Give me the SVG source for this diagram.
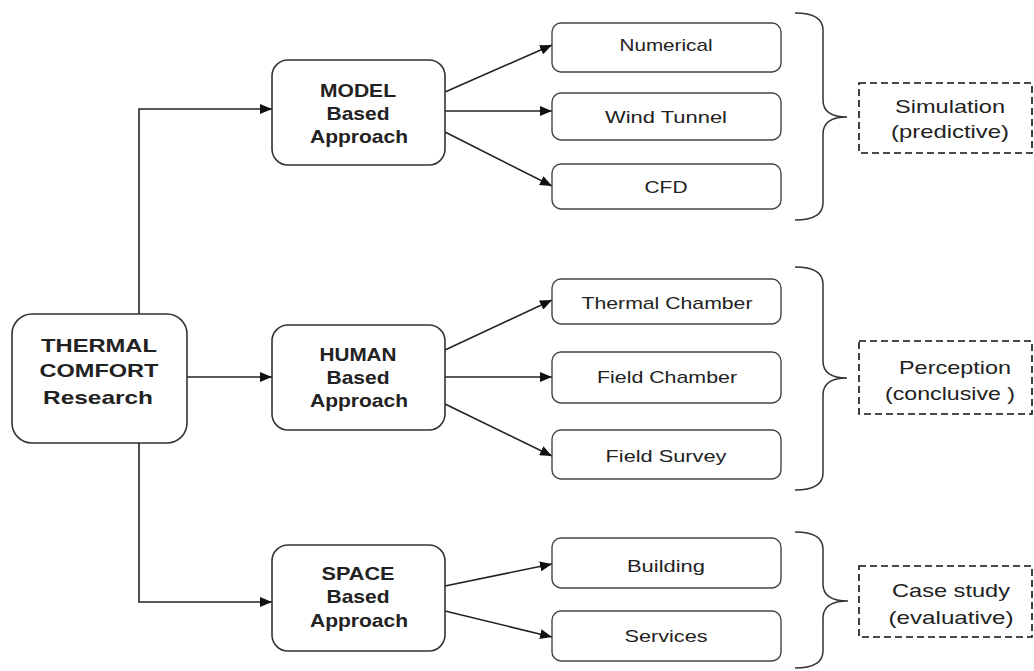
<svg xmlns="http://www.w3.org/2000/svg" width="1034" height="671" viewBox="0 0 1034 671">
<defs>
<marker id="ah" viewBox="0 0 12 10" refX="12" refY="5" markerWidth="12" markerHeight="10" markerUnits="userSpaceOnUse" orient="auto">
<path d="M0,0 L12,5 L0,10 Z" fill="#111"/>
</marker>
<style>
.node{fill:#fff;stroke:#333;stroke-width:1.6}
.leaf{fill:#fff;stroke:#444;stroke-width:1.4}
.dash{fill:#fff;stroke:#111;stroke-width:1.6;stroke-dasharray:7,4}
.brace{fill:none;stroke:#333;stroke-width:1.5}
.conn{fill:none;stroke:#222;stroke-width:1.6}
.b{font-family:"Liberation Sans",Arial,sans-serif;font-weight:bold;font-size:19px;fill:#222;text-anchor:middle}
.t{font-family:"Liberation Sans",Arial,sans-serif;font-size:17px;fill:#222;text-anchor:middle}
.d{font-family:"Liberation Sans",Arial,sans-serif;font-size:19px;fill:#222;text-anchor:middle}
</style>
</defs>
<rect width="1034" height="671" fill="#fff"/>
<g id="connectors">
<path class="conn" d="M139,314 V109 H272" marker-end="url(#ah)"/>
<path class="conn" d="M139,443 V602 H272" marker-end="url(#ah)"/>
<path class="conn" d="M187,377 H272" marker-end="url(#ah)"/>
<path class="conn" d="M445,92 L552,45" marker-end="url(#ah)"/>
<path class="conn" d="M445,111 H552" marker-end="url(#ah)"/>
<path class="conn" d="M445,132 L552,186" marker-end="url(#ah)"/>
<path class="conn" d="M445,350 L552,300" marker-end="url(#ah)"/>
<path class="conn" d="M445,377 H552" marker-end="url(#ah)"/>
<path class="conn" d="M445,404 L552,456" marker-end="url(#ah)"/>
<path class="conn" d="M445,586 L552,564" marker-end="url(#ah)"/>
<path class="conn" d="M445,611 L552,637" marker-end="url(#ah)"/>
</g>
<g id="thermal">
<rect class="node" x="12" y="314" width="175" height="129" rx="20"/>
<text class="b" x="99" y="352" font-size="20" textLength="116" lengthAdjust="spacingAndGlyphs">THERMAL</text>
<text class="b" x="99" y="377" font-size="20" textLength="119" lengthAdjust="spacingAndGlyphs">COMFORT</text>
<text class="b" x="98" y="404" font-size="20" textLength="110" lengthAdjust="spacingAndGlyphs">Research</text>
</g>
<g id="model">
<rect class="node" x="272" y="60" width="173" height="105" rx="16"/>
<text class="b" x="358" y="97" textLength="76" lengthAdjust="spacingAndGlyphs">MODEL</text>
<text class="b" x="358" y="120" textLength="63" lengthAdjust="spacingAndGlyphs">Based</text>
<text class="b" x="359" y="143" textLength="98" lengthAdjust="spacingAndGlyphs">Approach</text>
</g>
<g id="human">
<rect class="node" x="272" y="325" width="173" height="105" rx="16"/>
<text class="b" x="358" y="361" textLength="77" lengthAdjust="spacingAndGlyphs">HUMAN</text>
<text class="b" x="358" y="384" textLength="63" lengthAdjust="spacingAndGlyphs">Based</text>
<text class="b" x="359" y="407" textLength="98" lengthAdjust="spacingAndGlyphs">Approach</text>
</g>
<g id="space">
<rect class="node" x="272" y="545" width="173" height="106" rx="16"/>
<text class="b" x="358" y="580" textLength="73" lengthAdjust="spacingAndGlyphs">SPACE</text>
<text class="b" x="358" y="603" textLength="63" lengthAdjust="spacingAndGlyphs">Based</text>
<text class="b" x="359" y="627" textLength="98" lengthAdjust="spacingAndGlyphs">Approach</text>
</g>
<g id="numerical"><rect class="leaf" x="552" y="23" width="229" height="49" rx="9"/><text class="t" x="666" y="51" textLength="93" lengthAdjust="spacingAndGlyphs">Numerical</text></g>
<g id="windtunnel"><rect class="leaf" x="552" y="93" width="229" height="47" rx="9"/><text class="t" x="666" y="123" textLength="122" lengthAdjust="spacingAndGlyphs">Wind Tunnel</text></g>
<g id="cfd"><rect class="leaf" x="552" y="164" width="229" height="45" rx="9"/><text class="t" x="666" y="193" textLength="43" lengthAdjust="spacingAndGlyphs">CFD</text></g>
<g id="thermalchamber"><rect class="leaf" x="552" y="279" width="229" height="45" rx="9"/><text class="t" x="667" y="309" textLength="171" lengthAdjust="spacingAndGlyphs">Thermal Chamber</text></g>
<g id="fieldchamber"><rect class="leaf" x="552" y="352" width="229" height="51" rx="9"/><text class="t" x="667" y="383" textLength="140" lengthAdjust="spacingAndGlyphs">Field Chamber</text></g>
<g id="fieldsurvey"><rect class="leaf" x="552" y="430" width="229" height="49" rx="9"/><text class="t" x="666" y="462" textLength="121" lengthAdjust="spacingAndGlyphs">Field Survey</text></g>
<g id="building"><rect class="leaf" x="552" y="538" width="229" height="50" rx="9"/><text class="t" x="666" y="572" textLength="78" lengthAdjust="spacingAndGlyphs">Building</text></g>
<g id="services"><rect class="leaf" x="552" y="611" width="229" height="50" rx="9"/><text class="t" x="666" y="642" textLength="83" lengthAdjust="spacingAndGlyphs">Services</text></g>
<g id="brace1"><path class="brace" d="M795,13 Q823,13 823,30 V100 Q823,117 847,117 Q823,117 823,134 V203 Q823,220 795,220"/></g>
<g id="brace2"><path class="brace" d="M795,267 Q823,267 823,284 V361 Q823,378 847,378 Q823,378 823,395 V473 Q823,490 795,490"/></g>
<g id="brace3"><path class="brace" d="M795,532 Q823,532 823,549 V584 Q823,601 848,601 Q823,601 823,618 V651 Q823,668 795,668"/></g>
<g id="simulation"><rect class="dash" x="859" y="83" width="173" height="70"/><text class="d" x="950" y="113" textLength="110" lengthAdjust="spacingAndGlyphs">Simulation</text><text class="d" x="950" y="138" textLength="118" lengthAdjust="spacingAndGlyphs">(predictive)</text></g>
<g id="perception"><rect class="dash" x="859" y="341" width="173" height="73"/><text class="d" x="955" y="374" textLength="112" lengthAdjust="spacingAndGlyphs">Perception</text><text class="d" x="950" y="400" textLength="130" lengthAdjust="spacingAndGlyphs">(conclusive )</text></g>
<g id="casestudy"><rect class="dash" x="859" y="566" width="173" height="71"/><text class="d" x="951" y="597" textLength="118" lengthAdjust="spacingAndGlyphs">Case study</text><text class="d" x="951" y="624" textLength="125" lengthAdjust="spacingAndGlyphs">(evaluative)</text></g>
</svg>
